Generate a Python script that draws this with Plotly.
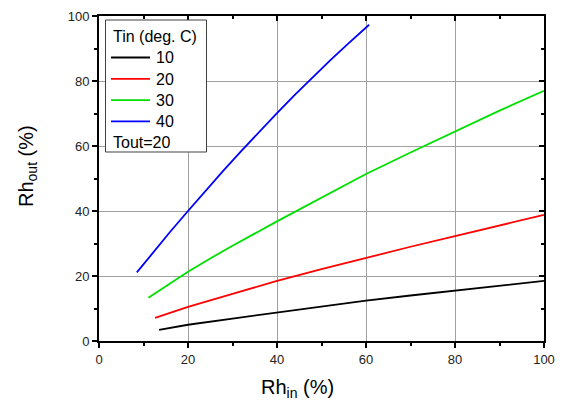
import plotly.graph_objects as go

# Data
rh_in_10 = [13.5, 20, 30, 40, 50, 60, 70, 80, 90, 100]
rh_out_10 = [3.4, 5.0, 6.9, 8.8, 10.6, 12.4, 14.0, 15.5, 17.0, 18.5]

rh_in_20 = [12.6, 20, 30, 40, 50, 60, 70, 80, 90, 100]
rh_out_20 = [7.1, 10.5, 14.5, 18.5, 22.1, 25.6, 29.0, 32.3, 35.6, 38.8]

rh_in_30 = [11.1, 15, 20, 25, 30, 40, 50, 60, 70, 80, 90, 100]
rh_out_30 = [13.3, 16.9, 21.3, 25.4, 29.3, 36.8, 44.2, 51.4, 58.0, 64.5, 70.9, 77.0]

rh_in_40 = [8.5, 12, 16, 20, 24, 28, 32, 36, 40, 44, 48, 52, 56, 60.7]
rh_out_40 = [21.1, 27.0, 33.6, 40.0, 46.3, 52.5, 58.5, 64.4, 70.1, 75.7, 81.1, 86.4, 91.5, 97.3]

series_names = ["10", "20", "30", "40"]
series_colors = ["#000000", "#ff0000", "#00e000", "#0000ff"]
legend_title = "Tin (deg. C)"
legend_note = "Tout=20"
xs = [rh_in_10, rh_in_20, rh_in_30, rh_in_40]
ys = [rh_out_10, rh_out_20, rh_out_30, rh_out_40]

FONT = "Liberation Sans, Arial, sans-serif"

# plot area in pixels
L, R, T, B = 99, 544, 16, 341
W, H = 562, 401


def px(xp):
    return (xp - L) / (R - L)


def py(yp):
    return (B - yp) / (B - T)


fig = go.Figure()
for name, color, x, y in zip(series_names, series_colors, xs, ys):
    fig.add_trace(go.Scatter(x=x, y=y, mode="lines", name=name,
                             line=dict(color=color, width=1.8), showlegend=False))

# invisible trace to activate mirrored top/right axes
fig.add_trace(go.Scatter(x=[0], y=[0], xaxis="x2", yaxis="y2", mode="markers",
                         marker=dict(opacity=0), showlegend=False, hoverinfo="skip"))

axis_common = dict(range=[0, 100], dtick=20, showline=True, linecolor="black",
                   linewidth=2, zeroline=False, automargin=False)
tick_out = dict(ticks="outside", ticklen=5, tickwidth=1.5, tickcolor="black",
                showgrid=True, gridcolor="#a0a0a0", gridwidth=1,
                minor=dict(dtick=10, ticks="outside", ticklen=3, tickwidth=1.5,
                           tickcolor="black", showgrid=False),
                tickfont=dict(size=13, color="#222"))
tick_in = dict(ticks="inside", ticklen=5, tickwidth=1.5, tickcolor="black",
               showticklabels=False, showgrid=False,
               minor=dict(dtick=10, ticks="inside", ticklen=3, tickwidth=1.5,
                          tickcolor="black"))

shapes = [dict(type="rect", xref="paper", yref="paper",
               x0=px(105.5), x1=px(206.5), y0=py(152), y1=py(20),
               fillcolor="white", line=dict(color="#404040", width=1), layer="above")]
annotations = [
    dict(text=legend_title, xref="paper", yref="paper", x=px(111), y=py(36.3),
         xanchor="left", yanchor="middle", showarrow=False, font=dict(size=16)),
    dict(text=legend_note, xref="paper", yref="paper", x=px(111), y=py(142),
         xanchor="left", yanchor="middle", showarrow=False, font=dict(size=16)),
    dict(text="Rh<sub>in</sub> (%)", xref="paper", yref="paper", x=px(297), y=py(388),
         xanchor="center", yanchor="middle", showarrow=False, font=dict(size=20)),
    dict(text="Rh<sub>out</sub> (%)", xref="paper", yref="paper", x=px(27), y=py(166),
         xanchor="center", yanchor="middle", showarrow=False, textangle=-90,
         font=dict(size=20)),
]
rows = [57.5, 78.8, 100.1, 121.4]
for name, color, r in zip(series_names, series_colors, rows):
    shapes.append(dict(type="line", xref="paper", yref="paper",
                       x0=px(111), x1=px(150), y0=py(r), y1=py(r),
                       line=dict(color=color, width=1.8), layer="above"))
    annotations.append(dict(text=name, xref="paper", yref="paper", x=px(154), y=py(r + 0.3),
                            xanchor="left", yanchor="middle", showarrow=False,
                            font=dict(size=16)))

fig.update_layout(
    width=W, height=H,
    margin=dict(l=L, r=W - R, t=T, b=H - B),
    paper_bgcolor="white", plot_bgcolor="white",
    font=dict(family=FONT, color="black"),
    showlegend=False,
    xaxis=dict(**axis_common, **tick_out),
    yaxis=dict(**axis_common, **tick_out),
    xaxis2=dict(**axis_common, **tick_in, overlaying="x", side="top", anchor="y2"),
    yaxis2=dict(**axis_common, **tick_in, overlaying="y", side="right", anchor="x2"),
    shapes=shapes,
    annotations=annotations,
)

fig.write_html("out.html", config={"displayModeBar": False},
               post_script="document.body.style.margin='0';")
